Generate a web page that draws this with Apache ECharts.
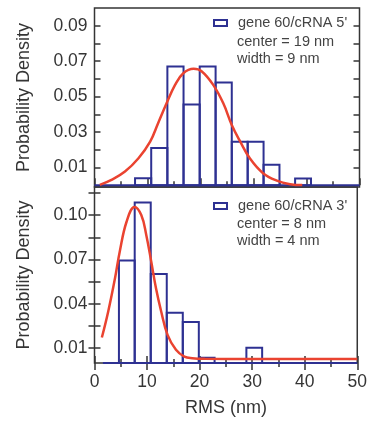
<!DOCTYPE html>
<html>
<head>
<meta charset="utf-8">
<script src="https://cdn.jsdelivr.net/npm/echarts@6/dist/echarts.min.js"></script>
<style>
html,body{margin:0;padding:0;background:#fff;}
#chart{width:370px;height:435px;}
</style>
</head>
<body>
<div id="chart"></div>
<script>
// ---- data ----
const topName = "gene 60/cRNA 5'";
const bottomName = "gene 60/cRNA 3'";
const topNote = "center = 19 nm\nwidth = 9 nm";
const bottomNote = "center = 8 nm\nwidth = 4 nm";

const topBinStart = [7.65, 10.7, 13.75, 16.8, 19.85, 22.85, 25.9, 28.9, 31.9, 37.85];
const topBinEnd   = [10.7, 13.75, 16.8, 19.85, 22.85, 25.9, 28.9, 31.9, 34.9, 40.85];
const topDensity  = [0.004, 0.021, 0.067, 0.0455, 0.067, 0.058, 0.0246, 0.0246, 0.0116, 0.0038];

const bottomBinStart = [4.65, 7.65, 10.7, 13.75, 16.8, 19.85, 28.9];
const bottomBinEnd   = [7.65, 10.7, 13.75, 16.8, 19.85, 22.85, 31.9];
const bottomDensity  = [0.0693, 0.1085, 0.0602, 0.034, 0.0277, 0.0036, 0.0103];

const topFitX = [1.0, 3.2, 5.75, 8.3, 10.5, 12.0, 13.6, 15.2, 16.75, 18.7, 20.2, 22.4, 24.3, 25.9, 27.5, 29.3, 31.8, 34.4, 36.9, 39.2];
const topFitY = [0.0002, 0.003, 0.0077, 0.0152, 0.0246, 0.035, 0.0462, 0.0566, 0.0632, 0.0657, 0.0643, 0.0566, 0.0462, 0.034, 0.0246, 0.0152, 0.0068, 0.0026, 0.0006, 0.0001];

const bottomFitX = [1.4, 2.6, 3.9, 4.8, 6.1, 7.6, 8.9, 9.85, 10.8, 11.7, 12.7, 13.9, 15.5, 17.1, 18.6, 21.0, 30, 40, 50];
const bottomFitY = [0.0172, 0.0347, 0.0573, 0.0753, 0.0955, 0.1055, 0.100, 0.0866, 0.0685, 0.0505, 0.0347, 0.019, 0.0089, 0.0043, 0.0032, 0.0028, 0.0027, 0.0027, 0.0027];

const baselineX = [1.6, 50];
const topBaselineX = [0, 50];

const xTickLabels = [0, 10, 20, 30, 40, 50];
const topYLabels = [0.01, 0.03, 0.05, 0.07, 0.09];
const topYTicks = [0.01, 0.02, 0.03, 0.04, 0.05, 0.06, 0.07, 0.08, 0.09];
const bottomYLabels = [0.01, 0.04, 0.07, 0.10];
const bottomYTicks = [0.01, 0.025, 0.04, 0.055, 0.07, 0.085, 0.10, 0.115];

// ---- styles ----
const BLUE = '#2e3192';
const RED = '#ea4330';
const AX = '#353535';
const FONT = '"Liberation Sans", Arial, sans-serif';

const chart = echarts.init(document.getElementById('chart'), null, {renderer:'canvas'});

function histData(s, e, d) { return s.map((v, i) => [v, e[i], d[i]]); }
function zip(a, b) { return a.map((v, i) => [v, b[i]]); }

function renderBar(params, api) {
  const x0 = api.value(0), x1 = api.value(1), y = api.value(2);
  const p0 = api.coord([x0, 0]);
  const p1 = api.coord([x1, y]);
  return {
    type: 'rect',
    shape: {x: p0[0], y: p1[1], width: p1[0] - p0[0], height: p0[1] - p1[1]},
    style: {fill: 'rgba(0,0,0,0)', stroke: BLUE, lineWidth: 2}
  };
}

const labelStyle = {color: AX, fontSize: 17.5, fontFamily: FONT};

function xAxisCfg(grid, pos, showLabels, name) {
  return {
    type: 'value', gridIndex: grid, min: 0, max: 50, interval: 10, position: pos,
    axisLine: {show: false},
    axisTick: {show: true, inside: true, length: 7, lineStyle: {color: AX, width: 1.5}},
    minorTick: {show: true, splitNumber: 2, length: 4, lineStyle: {color: AX, width: 1.5}},
    splitLine: {show: false},
    axisLabel: showLabels ? Object.assign({margin: 10, customValues: xTickLabels}, labelStyle) : {show: false},
    name: name || '',
    nameLocation: 'middle', nameGap: 36,
    nameTextStyle: {color: AX, fontSize: 18, fontFamily: FONT}
  };
}

function yAxisCfg(grid, pos, min, max, labels, ticks, showLabels) {
  return {
    type: 'value', gridIndex: grid, min: min, max: max, position: pos,
    axisLine: {show: false},
    axisTick: {show: true, inside: true, length: 6, customValues: ticks, lineStyle: {color: AX, width: 1.5}},
    splitLine: {show: false},
    axisLabel: showLabels ? Object.assign({margin: 7, customValues: labels, formatter: v => Number(v).toFixed(2)}, labelStyle) : {show: false},
    name: showLabels ? 'Probability Density' : '',
    nameLocation: 'middle', nameGap: 61,
    nameTextStyle: {color: AX, fontSize: 18, fontFamily: FONT}
  };
}

const option = {
  animation: false,
  backgroundColor: '#fff',
  grid: [
    {left: 94.5, right: 10.5, top: 8, height: 179, show: true, borderColor: AX, borderWidth: 1.5, backgroundColor: 'rgba(0,0,0,0)'},
    {left: 94.5, right: 10.5, top: 187, height: 176, show: true, borderColor: AX, borderWidth: 1.5, backgroundColor: 'rgba(0,0,0,0)'}
  ],
  xAxis: [
    xAxisCfg(0, 'bottom', false),
    xAxisCfg(1, 'bottom', true, 'RMS (nm)'),
    xAxisCfg(1, 'top', false)
  ],
  yAxis: [
    yAxisCfg(0, 'left', -0.001, 0.1, topYLabels, topYTicks, true),
    yAxisCfg(0, 'right', -0.001, 0.1, topYLabels, topYTicks, false),
    yAxisCfg(1, 'left', 0, 0.119, bottomYLabels, bottomYTicks, true),
    yAxisCfg(1, 'right', 0, 0.119, bottomYLabels, bottomYTicks, false)
  ],
  legend: [
    {
      left: 213, top: 15.5, padding: 0, itemWidth: 13, itemHeight: 6,
      data: [{name: topName, icon: 'rect', itemStyle: {color: 'rgba(0,0,0,0)', borderColor: BLUE, borderWidth: 2}}],
      textStyle: {color: '#444', fontSize: 14.5, fontFamily: FONT, padding: [0, 0, 0, 6]},
      selectedMode: false
    },
    {
      left: 213, top: 198.5, padding: 0, itemWidth: 13, itemHeight: 6,
      data: [{name: bottomName, icon: 'rect', itemStyle: {color: 'rgba(0,0,0,0)', borderColor: BLUE, borderWidth: 2}}],
      textStyle: {color: '#444', fontSize: 14.5, fontFamily: FONT, padding: [0, 0, 0, 6]},
      selectedMode: false
    }
  ],
  title: [
    {text: topNote, left: 237, top: 34, padding: 0,
     textStyle: {color: '#444', fontSize: 14.5, fontWeight: 'normal', fontFamily: FONT, lineHeight: 16.5}},
    {text: bottomNote, left: 237, top: 215.5, padding: 0,
     textStyle: {color: '#444', fontSize: 14.5, fontWeight: 'normal', fontFamily: FONT, lineHeight: 17}}
  ],
  series: [
    {type: 'line', xAxisIndex: 0, yAxisIndex: 0, data: zip(topBaselineX, [0, 0]), symbol: 'none',
     lineStyle: {color: BLUE, width: 2}, silent: true, z: 2},
    {type: 'custom', name: topName, xAxisIndex: 0, yAxisIndex: 0, renderItem: renderBar,
     data: histData(topBinStart, topBinEnd, topDensity), itemStyle: {color: BLUE}, z: 3},
    {type: 'line', xAxisIndex: 0, yAxisIndex: 0, data: zip(topFitX, topFitY), smooth: 0.4, symbol: 'none',
     lineStyle: {color: RED, width: 2.5}, z: 4},

    {type: 'line', xAxisIndex: 1, yAxisIndex: 2, data: zip(baselineX, [0, 0]), symbol: 'none',
     lineStyle: {color: BLUE, width: 2}, silent: true, z: 2},
    {type: 'custom', name: bottomName, xAxisIndex: 1, yAxisIndex: 2, renderItem: renderBar,
     data: histData(bottomBinStart, bottomBinEnd, bottomDensity), itemStyle: {color: BLUE}, z: 3},
    {type: 'line', xAxisIndex: 1, yAxisIndex: 2, data: zip(bottomFitX, bottomFitY), smooth: 0.4, symbol: 'none',
     lineStyle: {color: RED, width: 2.5}, z: 4}
  ]
};
chart.setOption(option);
</script>
</body>
</html>
